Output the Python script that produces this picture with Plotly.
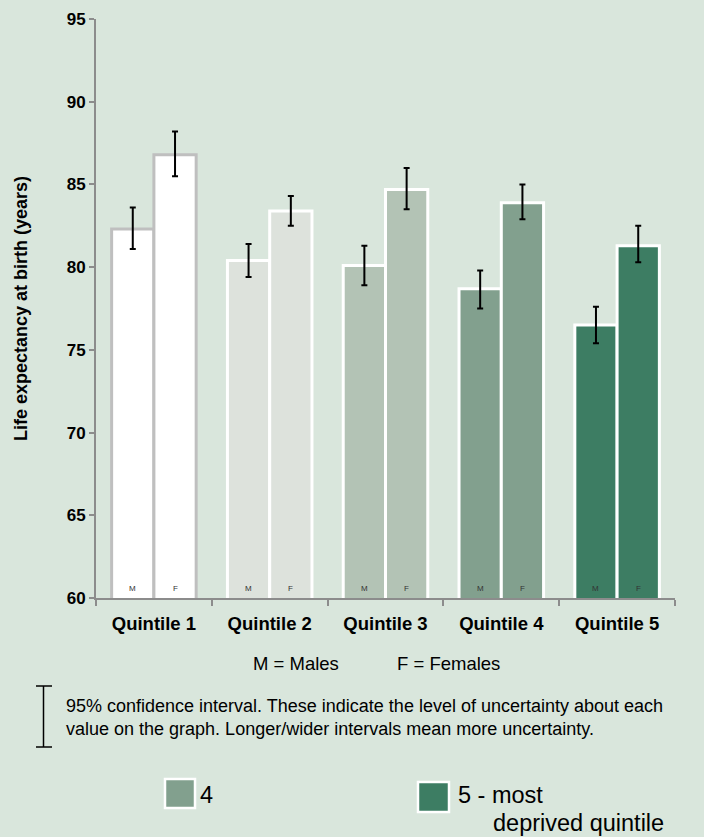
import plotly.graph_objects as go

# ---------------- data ----------------
quintiles = ["Quintile 1", "Quintile 2", "Quintile 3", "Quintile 4", "Quintile 5"]
males = [82.3, 80.4, 80.1, 78.7, 76.5]
males_low = [81.1, 79.4, 78.9, 77.5, 75.4]
males_high = [83.6, 81.4, 81.3, 79.8, 77.6]
females = [86.8, 83.4, 84.7, 83.9, 81.3]
females_low = [85.5, 82.5, 83.5, 82.9, 80.3]
females_high = [88.2, 84.3, 86.0, 85.0, 82.5]
y_tickvals = [60, 65, 70, 75, 80, 85, 90, 95]
sex_labels = ["M", "F"]

# ---------------- styles ----------------
W, H = 704, 837
L, R, T, B = 96, 29, 19, 239
BG = "#d9e6dc"
fills = ["#ffffff", "#dde2dc", "#b3c3b5", "#82a08e", "#3d7d63"]
borders = ["#bfbfbf", "#ffffff", "#ffffff", "#ffffff", "#ffffff"]
AX = "#8c8c8c"
FONT = "Liberation Sans, Arial, sans-serif"
BARW = 0.365


def px(x):
    return (x - L) / (W - L - R)


def py(y):
    return (H - B - y) / (H - T - B)


fig = go.Figure()


def add_series(vals, low, high, offset, name):
    fig.add_trace(go.Bar(
        x=quintiles, y=vals, name=name,
        width=BARW, offset=offset,
        marker=dict(color=fills, line=dict(color=borders, width=3)),
        error_y=dict(type="data", symmetric=False,
                     array=[h - v for h, v in zip(high, vals)],
                     arrayminus=[v - l for v, l in zip(vals, low)],
                     color="black", thickness=2, width=3),
        showlegend=False,
    ))


add_series(males, males_low, males_high, -BARW, "Males")
add_series(females, females_low, females_high, 0, "Females")

annotations = []
# M / F labels at bottom of each bar
for i in range(len(quintiles)):
    for j, lab in enumerate(sex_labels):
        annotations.append(dict(
            x=i + (-BARW / 2 if j == 0 else BARW / 2), y=60, xref="x", yref="y",
            text=lab, showarrow=False, yanchor="bottom", yshift=3,
            font=dict(size=8, color="#333333", family=FONT)))

# Key texts
annotations += [
    dict(x=px(296), y=py(663), xref="paper", yref="paper", text="M = Males",
         showarrow=False, xanchor="center", yanchor="middle",
         font=dict(size=18.5, color="black", family=FONT)),
    dict(x=px(448), y=py(663), xref="paper", yref="paper", text="F = Females",
         showarrow=False, xanchor="center", yanchor="middle",
         font=dict(size=18.5, color="black", family=FONT)),
    dict(x=px(64), y=py(706), xref="paper", yref="paper",
         text="95% confidence interval. These indicate the level of uncertainty about each",
         showarrow=False, xanchor="left", yanchor="middle",
         font=dict(size=18, color="black", family=FONT)),
    dict(x=px(64), y=py(729), xref="paper", yref="paper",
         text="value on the graph. Longer/wider intervals mean more uncertainty.",
         showarrow=False, xanchor="left", yanchor="middle",
         font=dict(size=18, color="black", family=FONT)),
    dict(x=px(198), y=py(795), xref="paper", yref="paper", text="4",
         showarrow=False, xanchor="left", yanchor="middle",
         font=dict(size=23.5, color="black", family=FONT)),
    dict(x=px(456), y=py(795), xref="paper", yref="paper", text="5 - most",
         showarrow=False, xanchor="left", yanchor="middle",
         font=dict(size=23.5, color="black", family=FONT)),
    dict(x=px(491), y=py(823), xref="paper", yref="paper", text="deprived quintile",
         showarrow=False, xanchor="left", yanchor="middle",
         font=dict(size=23.5, color="black", family=FONT)),
]

shapes = [
    # confidence interval icon
    dict(type="line", xref="paper", yref="paper", x0=px(43.5), x1=px(43.5),
         y0=py(686), y1=py(747), line=dict(color="black", width=1.5)),
    dict(type="line", xref="paper", yref="paper", x0=px(36), x1=px(52),
         y0=py(686), y1=py(686), line=dict(color="black", width=1.5)),
    dict(type="line", xref="paper", yref="paper", x0=px(36), x1=px(52),
         y0=py(747), y1=py(747), line=dict(color="black", width=1.5)),
    # legend squares
    dict(type="rect", xref="paper", yref="paper", x0=px(165), x1=px(195),
         y0=py(808), y1=py(779), fillcolor=fills[3], line=dict(color="white", width=2.5)),
    dict(type="rect", xref="paper", yref="paper", x0=px(418), x1=px(449),
         y0=py(812), y1=py(782), fillcolor=fills[4], line=dict(color="white", width=2.5)),
]

fig.update_layout(
    width=W, height=H,
    margin=dict(l=L, r=R, t=T, b=B, autoexpand=False),
    paper_bgcolor=BG, plot_bgcolor=BG,
    barmode="overlay",
    font=dict(family=FONT, color="black"),
    annotations=annotations,
    shapes=shapes,
    xaxis=dict(
        type="category", range=[-0.5, 4.5], tickson="boundaries",
        ticks="outside", ticklen=6, tickcolor=AX, tickwidth=1.5,
        showline=True, linecolor=AX, linewidth=2, showgrid=False,
        tickfont=dict(size=18.5, weight="bold", color="black", family=FONT),
        ticklabelstandoff=8, automargin=False,
    ),
    yaxis=dict(
        range=[60, 95], tickvals=y_tickvals,
        ticks="outside", ticklen=5, tickcolor=AX, tickwidth=1.5,
        showline=True, linecolor=AX, linewidth=2, showgrid=False, zeroline=False,
        tickfont=dict(size=17, weight="bold", color="black", family=FONT),
        title=dict(text="Life expectancy at birth (years)", standoff=34,
                   font=dict(size=18, weight="bold", color="black", family=FONT)),
        automargin=False,
    ),
)

fig.write_html(
    "out.html",
    config={"displayModeBar": False},
    post_script="document.body.style.margin='0';document.body.style.background='" + BG + "';",
)
